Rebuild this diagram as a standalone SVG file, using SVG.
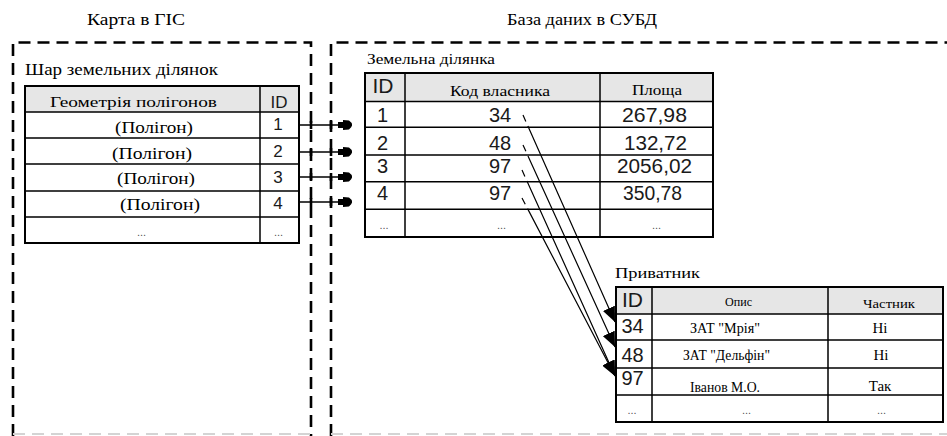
<svg xmlns="http://www.w3.org/2000/svg" width="947" height="436" viewBox="0 0 947 436">
  <style>
    .serif { font-family: "Liberation Serif", "Times New Roman", "DejaVu Serif", serif; fill: #000; }
    .num { font-family: "Liberation Sans", Arial, sans-serif; fill: #1a1a1a; }
    .dots { font-family: "Liberation Sans", Arial, sans-serif; font-size: 11px; fill: #555; text-anchor: middle; }
    .frame { fill: none; stroke: #000; stroke-width: 2.6; stroke-dasharray: 12 7; }
    .frame-faint { fill: none; stroke: #d4d4d4; stroke-width: 2; stroke-dasharray: 12 7; }
    .tick { stroke: #000; stroke-width: 2.6; }
    .tbl { fill: #fff; stroke: #000; stroke-width: 2; }
    .hdr { fill: #e6e6e6; }
    .grid { stroke: #000; stroke-width: 1.5; fill: none; }
    .link { stroke: #000; stroke-width: 1.4; fill: none; }
    .ref { stroke: #000; stroke-width: 1.2; fill: none; stroke-dasharray: 7 5 1000; }
    .mid { text-anchor: middle; }
  </style>
  <defs>
    <marker id="bullet" markerUnits="userSpaceOnUse" markerWidth="15" markerHeight="12" refX="14" refY="6" orient="auto">
      <path d="M0,3 H5 V1 L11,1.6 Q14,3.5 14,6 Q14,8.5 11,10.4 L5,11 V9 H0 Z" fill="#000"/>
    </marker>
    <marker id="tri" markerUnits="userSpaceOnUse" markerWidth="16" markerHeight="13" refX="15" refY="6.5" orient="auto">
      <path d="M0,0 L15,6.5 L0,13 Z" fill="#000"/>
    </marker>
  </defs>

  <!-- section titles -->
  <text class="serif" x="87" y="25" font-size="17" textLength="98" lengthAdjust="spacingAndGlyphs">Карта в ГІС</text>
  <text class="serif" x="507" y="25" font-size="17" textLength="150" lengthAdjust="spacingAndGlyphs">База даних в СУБД</text>

  <!-- dashed frames: GIS map and DBMS -->
  <g id="frames">
    <path class="frame" d="M13,436 V42.5 H311 V436"/>
    <path class="frame" d="M331,436 V42.5 H950"/>
    <path class="frame-faint" d="M13,434 H311 M331,434 H947"/>
    <path class="tick" d="M311,121 V129 M311,148 V156 M311,173 V181 M311,198 V206 M331,121 V129 M331,148 V156 M331,173 V181 M331,198 V206"/>
  </g>

  <!-- GIS layer table -->
  <g id="layer">
    <text class="serif" x="25" y="75" font-size="16" textLength="193" lengthAdjust="spacingAndGlyphs">Шар земельних ділянок</text>
    <rect class="tbl" x="25" y="86" width="274" height="157"/>
    <rect class="hdr" x="26" y="87" width="272" height="25"/>
    <path class="grid" d="M25,112 H299 M25,138 H299 M25,164 H299 M25,191 H299 M25,217 H299 M260,86 V243"/>
    <rect x="25" y="86" width="274" height="157" fill="none" stroke="#000" stroke-width="2"/>
    <text class="serif" x="50" y="107" font-size="15" textLength="167" lengthAdjust="spacingAndGlyphs">Геометрія полігонов</text>
    <text class="num mid" x="279" y="108" font-size="17">ID</text>
    <text class="serif" x="115" y="133" font-size="16" textLength="78" lengthAdjust="spacingAndGlyphs">(Полігон)</text>
    <text class="serif" x="112" y="158.5" font-size="16" textLength="80" lengthAdjust="spacingAndGlyphs">(Полігон)</text>
    <text class="serif" x="117" y="184" font-size="16" textLength="78" lengthAdjust="spacingAndGlyphs">(Полігон)</text>
    <text class="serif" x="120" y="210" font-size="16" textLength="80" lengthAdjust="spacingAndGlyphs">(Полігон)</text>
    <text class="num mid" x="278" y="130" font-size="17">1</text>
    <text class="num mid" x="278" y="156.5" font-size="17">2</text>
    <text class="num mid" x="278" y="183" font-size="17">3</text>
    <text class="num mid" x="278" y="208.5" font-size="17">4</text>
    <text class="dots" x="141.5" y="236">...</text>
    <text class="dots" x="278.5" y="236">...</text>
  </g>

  <!-- land plot table -->
  <g id="plot">
    <text class="serif" x="367" y="64" font-size="14" textLength="128" lengthAdjust="spacingAndGlyphs">Земельна ділянка</text>
    <rect class="tbl" x="365" y="73" width="348" height="164"/>
    <rect class="hdr" x="366" y="74" width="346" height="27"/>
    <path class="grid" d="M365,101.5 H713 M365,127.3 H713 M365,155 H713 M365,181.7 H713 M365,209.3 H713 M405,73 V237 M600,73 V237"/>
    <rect x="365" y="73" width="348" height="164" fill="none" stroke="#000" stroke-width="2"/>
    <text class="num mid" x="383" y="93.3" font-size="21">ID</text>
    <text class="serif" x="450" y="96" font-size="14" textLength="100" lengthAdjust="spacingAndGlyphs">Код власника</text>
    <text class="serif" x="632" y="95" font-size="14" textLength="50" lengthAdjust="spacingAndGlyphs">Площа</text>
    <text class="num mid" x="382.5" y="121.7" font-size="20">1</text>
    <text class="num mid" x="382.5" y="150" font-size="20">2</text>
    <text class="num mid" x="382.5" y="173.3" font-size="20">3</text>
    <text class="num mid" x="382.5" y="200" font-size="20">4</text>
    <text class="num mid" x="500" y="121.7" font-size="20">34</text>
    <text class="num mid" x="500" y="150" font-size="20">48</text>
    <text class="num mid" x="500" y="173.3" font-size="20">97</text>
    <text class="num mid" x="500" y="200" font-size="20">97</text>
    <text class="num" x="622" y="121.7" font-size="20" textLength="65" lengthAdjust="spacingAndGlyphs">267,98</text>
    <text class="num" x="624" y="150" font-size="20" textLength="63" lengthAdjust="spacingAndGlyphs">132,72</text>
    <text class="num" x="617" y="173.3" font-size="20" textLength="75" lengthAdjust="spacingAndGlyphs">2056,02</text>
    <text class="num" x="623" y="200" font-size="20" textLength="59" lengthAdjust="spacingAndGlyphs">350,78</text>
    <text class="dots" x="384" y="229">...</text>
    <text class="dots" x="501.5" y="229">...</text>
    <text class="dots" x="656.5" y="229">...</text>
  </g>

  <!-- owner table -->
  <g id="owner">
    <text class="serif" x="615" y="278" font-size="14" textLength="85" lengthAdjust="spacingAndGlyphs">Приватник</text>
    <rect class="tbl" x="616" y="287" width="327" height="135"/>
    <rect class="hdr" x="617" y="288" width="325" height="26"/>
    <path class="grid" d="M616,314 H943 M616,340 H943 M616,368 H943 M616,395 H943 M652,287 V422 M828,287 V422"/>
    <rect x="616" y="287" width="327" height="135" fill="none" stroke="#000" stroke-width="2"/>
    <text class="num mid" x="632.5" y="307" font-size="21">ID</text>
    <text class="serif" x="725" y="306" font-size="13" textLength="27" lengthAdjust="spacingAndGlyphs">Опис</text>
    <text class="serif" x="863" y="308" font-size="13" textLength="52" lengthAdjust="spacingAndGlyphs">Частник</text>
    <text class="num mid" x="632.5" y="333.3" font-size="20">34</text>
    <text class="num mid" x="632.5" y="361.7" font-size="20">48</text>
    <text class="num mid" x="632.5" y="385" font-size="20">97</text>
    <text class="serif" x="690" y="333" font-size="15" textLength="70" lengthAdjust="spacingAndGlyphs">ЗАТ "Мрія"</text>
    <text class="serif" x="683" y="360" font-size="15" textLength="87" lengthAdjust="spacingAndGlyphs">ЗАТ "Дельфін"</text>
    <text class="serif" x="690" y="391.5" font-size="15" textLength="70" lengthAdjust="spacingAndGlyphs">Іванов М.О.</text>
    <text class="serif mid" x="880" y="333" font-size="15">Ні</text>
    <text class="serif mid" x="881" y="360" font-size="15">Ні</text>
    <text class="serif mid" x="880" y="391" font-size="15">Так</text>
    <text class="dots" x="632" y="414">...</text>
    <text class="dots" x="746.5" y="414">...</text>
    <text class="dots" x="881.5" y="414">...</text>
  </g>

  <!-- connectors: polygon ID -> plot row, owner code -> owner row -->
  <g id="connectors">
    <line class="link" x1="299" y1="125" x2="352" y2="125" marker-end="url(#bullet)"/>
    <line class="link" x1="299" y1="152" x2="352" y2="152" marker-end="url(#bullet)"/>
    <line class="link" x1="299" y1="177" x2="352" y2="177" marker-end="url(#bullet)"/>
    <line class="link" x1="299" y1="202" x2="352" y2="202" marker-end="url(#bullet)"/>
    <line class="ref" x1="523" y1="115" x2="615" y2="322" marker-end="url(#tri)"/>
    <line class="ref" x1="523" y1="145" x2="615" y2="347" marker-end="url(#tri)"/>
    <line class="ref" x1="522" y1="170" x2="615" y2="376" marker-end="url(#tri)"/>
    <line class="ref" x1="522" y1="198" x2="615" y2="376" marker-end="url(#tri)"/>
  </g>
</svg>
